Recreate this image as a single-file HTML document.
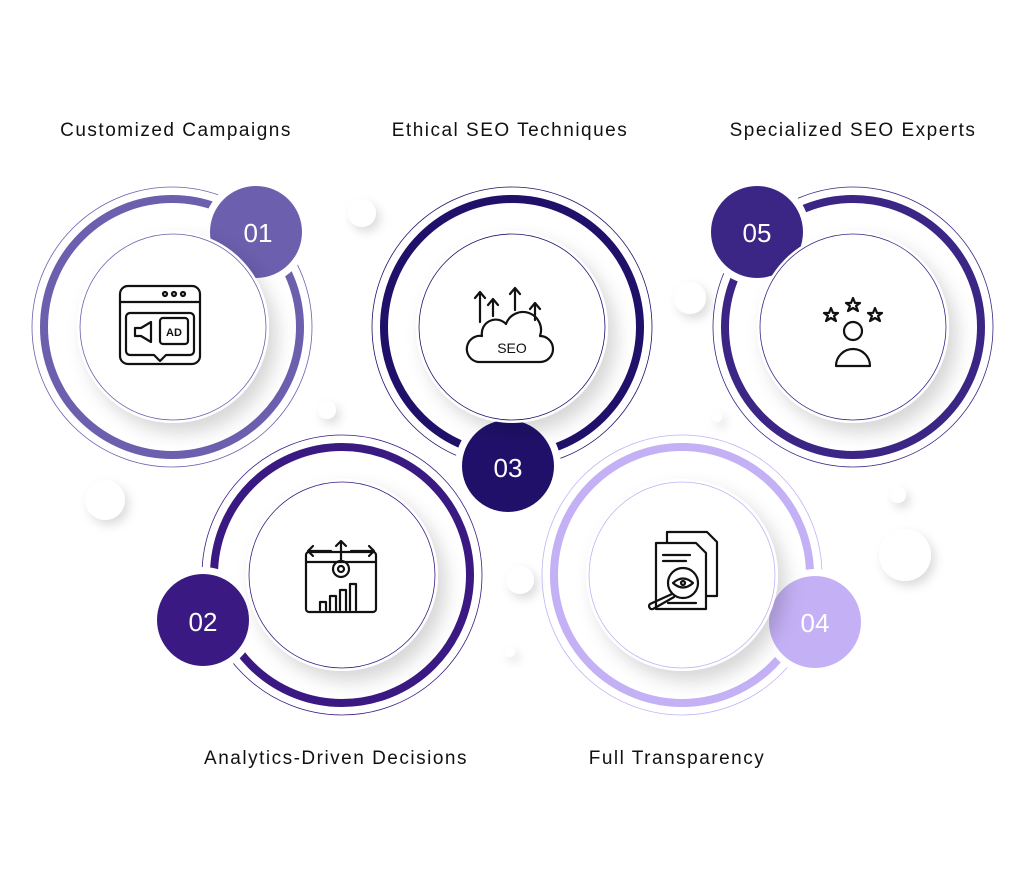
<!DOCTYPE html>
<html><head><meta charset="utf-8"><style>
html,body{margin:0;padding:0;background:#fff;}
svg{display:block}
text{font-family:"Liberation Sans",sans-serif;}
</style></head><body>
<svg width="1024" height="878" viewBox="0 0 1024 878" xmlns="http://www.w3.org/2000/svg">
<defs>
<filter id="sh" x="-30%" y="-30%" width="160%" height="160%"><feDropShadow dx="8" dy="10" stdDeviation="9" flood-color="#000" flood-opacity="0.16"/></filter>
<filter id="sh2" x="-60%" y="-60%" width="220%" height="220%"><feDropShadow dx="4" dy="5" stdDeviation="5" flood-color="#000" flood-opacity="0.14"/></filter>
</defs>
<rect width="1024" height="878" fill="#fff"/>

<g fill="#fff" filter="url(#sh2)">
<circle cx="362" cy="213" r="14"/><circle cx="690" cy="298" r="16"/><circle cx="327" cy="410" r="9"/>
<circle cx="105" cy="500" r="20"/><circle cx="905" cy="555" r="26"/><circle cx="520" cy="580" r="14"/>
<circle cx="898" cy="495" r="8"/><circle cx="717" cy="417" r="5"/><circle cx="510" cy="652" r="5"/>
</g>

<g>
<circle cx="342" cy="575" r="140" fill="none" stroke="#3a1a82" stroke-width="0.8"/>
<circle cx="342" cy="575" r="128" fill="none" stroke="#fff" stroke-width="16"/>
<circle cx="342" cy="575" r="128" fill="none" stroke="#3a1a82" stroke-width="8"/>
</g>
<g>
<circle cx="682" cy="575" r="140" fill="none" stroke="#c4b0f5" stroke-width="0.8"/>
<circle cx="682" cy="575" r="128" fill="none" stroke="#fff" stroke-width="16"/>
<circle cx="682" cy="575" r="128" fill="none" stroke="#c4b0f5" stroke-width="8"/>
</g>
<g>
<circle cx="172" cy="327" r="140" fill="none" stroke="#6b5fae" stroke-width="0.8"/>
<circle cx="172" cy="327" r="128" fill="none" stroke="#fff" stroke-width="16"/>
<circle cx="172" cy="327" r="128" fill="none" stroke="#6b5fae" stroke-width="8"/>
</g>
<g>
<circle cx="512" cy="327" r="140" fill="none" stroke="#20106a" stroke-width="0.8"/>
<circle cx="512" cy="327" r="128" fill="none" stroke="#fff" stroke-width="16"/>
<circle cx="512" cy="327" r="128" fill="none" stroke="#20106a" stroke-width="8"/>
</g>
<g>
<circle cx="853" cy="327" r="140" fill="none" stroke="#3b2585" stroke-width="0.8"/>
<circle cx="853" cy="327" r="128" fill="none" stroke="#fff" stroke-width="16"/>
<circle cx="853" cy="327" r="128" fill="none" stroke="#3b2585" stroke-width="8"/>
</g>

<g fill="#fff">
<circle cx="256" cy="232" r="53"/><circle cx="757" cy="232" r="53"/>
<circle cx="508" cy="466" r="53"/><circle cx="203" cy="620" r="53"/><circle cx="815" cy="622" r="53"/>
</g>
<circle cx="256" cy="232" r="46" fill="#6b5fae"/>
<circle cx="757" cy="232" r="46" fill="#3b2585"/>
<circle cx="508" cy="466" r="46" fill="#20106a"/>
<circle cx="203" cy="620" r="46" fill="#3a1a82"/>
<circle cx="815" cy="622" r="46" fill="#c4b0f5"/>

<g fill="#fff" filter="url(#sh)">
<circle cx="173" cy="327" r="96"/><circle cx="512" cy="327" r="96"/><circle cx="853" cy="327" r="96"/>
<circle cx="342" cy="575" r="96"/><circle cx="682" cy="575" r="96"/>
</g>
<circle cx="173" cy="327" r="93" fill="none" stroke="#6b5fae" stroke-width="0.8"/>
<circle cx="512" cy="327" r="93" fill="none" stroke="#20106a" stroke-width="0.8"/>
<circle cx="853" cy="327" r="93" fill="none" stroke="#3b2585" stroke-width="0.8"/>
<circle cx="342" cy="575" r="93" fill="none" stroke="#3a1a82" stroke-width="0.8"/>
<circle cx="682" cy="575" r="93" fill="none" stroke="#c4b0f5" stroke-width="0.8"/>

<g fill="#fff" font-size="26" text-anchor="middle">
<text x="258" y="242">01</text><text x="757" y="242">05</text><text x="508" y="477">03</text>
<text x="203" y="631">02</text><text x="815" y="632">04</text>
</g>

<g fill="#111" font-size="19" text-anchor="middle" letter-spacing="1.5">
<text x="176" y="136">Customized Campaigns</text>
<text x="510" y="136">Ethical SEO Techniques</text>
<text x="853" y="136">Specialized SEO Experts</text>
<text x="336" y="764">Analytics-Driven Decisions</text>
<text x="677" y="764">Full Transparency</text>
</g>

<g fill="none" stroke="#111" stroke-width="2.2" stroke-linecap="round" stroke-linejoin="round">
<rect x="120" y="286" width="80" height="78" rx="8"/>
<line x1="120" y1="302" x2="200" y2="302"/>
<circle cx="165" cy="294" r="2"/><circle cx="174" cy="294" r="2"/><circle cx="183" cy="294" r="2"/>
<path d="M130 313 h60 a4 4 0 0 1 4 4 v34 a4 4 0 0 1 -4 4 h-24 l-6 6 l-6 -6 h-24 a4 4 0 0 1 -4 -4 v-34 a4 4 0 0 1 4 -4z"/>
<rect x="160" y="318" width="28" height="26" rx="3"/>
<path d="M135 328 h6 l10 -6 v20 l-10 -6 h-6z"/>
<text x="174" y="336" font-size="11" fill="#111" stroke="none" text-anchor="middle" font-weight="bold">AD</text>
<path d="M478 362 h62 a13 13 0 0 0 0 -26 a18 18 0 0 0 -34 -12 a14 14 0 0 0 -24 12 a13 13 0 0 0 -4 26z"/>
<path d="M480 322 v-30 M475 298 l5 -6 l5 6 M493 316 v-16 M488 305 l5 -6 l5 6 M515 310 v-22 M510 294 l5 -6 l5 6 M535 320 v-16 M530 309 l5 -6 l5 6"/>
<text x="512" y="353" font-size="14" fill="#111" stroke="none" text-anchor="middle">SEO</text>
<circle cx="853" cy="331" r="9"/>
<path d="M836 366 a17 17 0 0 1 34 0 z"/>
<path d="M831 308 l2 5 5 0 -4 3 2 5 -5 -3 -5 3 2 -5 -4 -3 5 0z"/>
<path d="M853 298 l2 5 5 0 -4 3 2 5 -5 -3 -5 3 2 -5 -4 -3 5 0z"/>
<path d="M875 308 l2 5 5 0 -4 3 2 5 -5 -3 -5 3 2 -5 -4 -3 5 0z"/>
<rect x="306" y="552" width="70" height="60" rx="3"/>
<line x1="306" y1="562" x2="376" y2="562"/>
<circle cx="341" cy="569" r="8"/><circle cx="341" cy="569" r="3"/>
<path d="M341 561 v-20 M336 546 l5 -5 l5 5 M331 551 h-22 M313 546 l-5 5 l5 5 M351 551 h22 M369 546 l5 5 l-5 5"/>
<path d="M320 610 v-8 h6 v8 M330 610 v-14 h6 v14 M340 610 v-20 h6 v20 M350 610 v-26 h6 v26"/>
<path d="M667 532 h40 l10 10 v54 h-50z"/>
<path d="M656 543 h40 l10 10 v56 h-50z" fill="#fff"/>
<line x1="663" y1="555" x2="690" y2="555"/><line x1="663" y1="561" x2="686" y2="561"/>
<circle cx="683" cy="583" r="15" fill="#fff"/>
<path d="M673 583 q10 -9 20 0 q-10 9 -20 0z"/><circle cx="683" cy="583" r="2"/>
<path d="M672 594 l-22 10 a3 3 0 0 0 3 5 l21 -12"/>
<line x1="668" y1="603" x2="696" y2="603"/>
</g>
</svg>
</body></html>
